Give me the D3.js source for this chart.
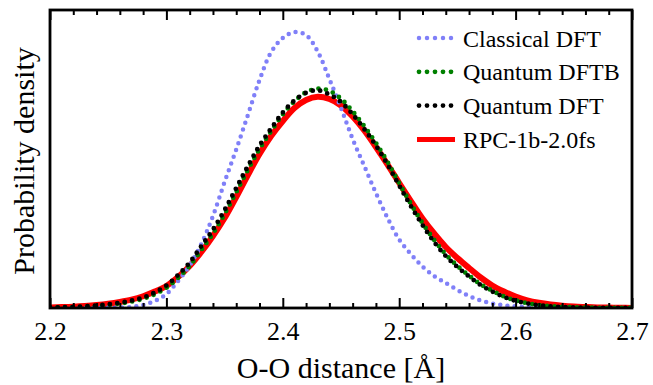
<!DOCTYPE html>
<html>
<head>
<meta charset="utf-8">
<script src="https://cdn.jsdelivr.net/npm/d3@7"></script>
<style>
body { margin: 0; background: #fff; }
text { font-family: "Liberation Serif", "Times New Roman", serif; fill: #000; }
</style>
</head>
<body>
<script>
var width = 653;
var height = 385;
var margin = {left: 50, right: 21, top: 10, bottom: 77};

// O-O distance grid [Å]
var distance = [2.20, 2.21, 2.22, 2.23, 2.24, 2.25, 2.26, 2.27, 2.28, 2.29,
                2.30, 2.31, 2.32, 2.33, 2.34, 2.35, 2.36, 2.37, 2.38, 2.39,
                2.40, 2.41, 2.42, 2.43, 2.44, 2.45, 2.46, 2.47, 2.48, 2.49,
                2.50, 2.51, 2.52, 2.53, 2.54, 2.55, 2.56, 2.57, 2.58, 2.59,
                2.60, 2.61, 2.62, 2.63, 2.64, 2.65, 2.66, 2.67, 2.68, 2.69, 2.70];

var classicalDFT = [0.000, 0.000, 0.001, 0.002, 0.003, 0.005, 0.011, 0.027, 0.081, 0.188,
                    0.376, 0.725, 1.141, 1.718, 2.470, 3.383, 4.255, 5.181, 6.121, 6.872,
                    7.248, 7.409, 7.329, 6.886, 6.148, 5.369, 4.537, 3.812, 3.087, 2.416,
                    1.839, 1.450, 1.114, 0.859, 0.671, 0.483, 0.322, 0.201, 0.121, 0.072,
                    0.046, 0.027, 0.016, 0.008, 0.005, 0.003, 0.001, 0.000, 0.000, 0.000, 0.000];

var quantumDFTB = [0.010, 0.015, 0.022, 0.038, 0.056, 0.084, 0.121, 0.174, 0.247, 0.370,
                   0.545, 0.810, 1.130, 1.560, 2.000, 2.525, 3.110, 3.710, 4.270, 4.750,
                   5.200, 5.550, 5.790, 5.890, 5.830, 5.620, 5.280, 4.880, 4.430, 3.920,
                   3.350, 2.800, 2.280, 1.830, 1.440, 1.130, 0.870, 0.635, 0.465, 0.310,
                   0.203, 0.130, 0.080, 0.049, 0.029, 0.017, 0.009, 0.005, 0.003, 0.001, 0.000];

var quantumDFT = [0.013, 0.019, 0.027, 0.046, 0.067, 0.099, 0.142, 0.201, 0.282, 0.416,
                  0.604, 0.886, 1.221, 1.664, 2.107, 2.631, 3.221, 3.812, 4.362, 4.819,
                  5.248, 5.570, 5.777, 5.844, 5.732, 5.530, 5.200, 4.805, 4.362, 3.852,
                  3.289, 2.738, 2.228, 1.772, 1.396, 1.101, 0.846, 0.617, 0.443, 0.295,
                  0.193, 0.123, 0.075, 0.046, 0.027, 0.016, 0.008, 0.005, 0.003, 0.001, 0.000];

var rpc = [0.016, 0.025, 0.037, 0.055, 0.080, 0.115, 0.163, 0.225, 0.315, 0.440,
           0.591, 0.832, 1.128, 1.503, 1.933, 2.416, 2.980, 3.570, 4.134, 4.617,
           5.020, 5.369, 5.584, 5.670, 5.611, 5.436, 5.141, 4.765, 4.322, 3.852,
           3.356, 2.872, 2.403, 2.000, 1.638, 1.342, 1.074, 0.819, 0.604, 0.443,
           0.309, 0.207, 0.140, 0.094, 0.062, 0.040, 0.027, 0.016, 0.011, 0.005, 0.003];

var xTicks = [2.2, 2.3, 2.4, 2.5, 2.6, 2.7];
var legendLabels = ["Classical DFT", "Quantum DFTB", "Quantum DFT", "RPC-1b-2.0fs"];

var svg = d3.select("body")
            .append("svg")
            .attr("width", width)
            .attr("height", height);

var xScale = d3.scaleLinear()
               .domain([2.2, 2.7])
               .range([margin.left, width - margin.right]);
var yScale = d3.scaleLinear()
               .domain([0, 8])
               .range([height - margin.bottom, margin.top]);

svg.append("clipPath")
   .attr("id", "plotClip")
   .append("rect")
   .attr("x", margin.left)
   .attr("y", margin.top)
   .attr("width", width - margin.left - margin.right)
   .attr("height", height - margin.top - margin.bottom);

var series = [
  {name: legendLabels[0], values: classicalDFT, color: "#8080f8", width: 4.5, gap: 7.2, dotted: true},
  {name: legendLabels[1], values: quantumDFTB, color: "#008000", width: 4.8, gap: 7.5, dotted: true},
  {name: legendLabels[2], values: quantumDFT, color: "#000000", width: 4.8, gap: 7.5, dotted: true},
  {name: legendLabels[3], values: rpc, color: "#ff0000", width: 6, gap: 0, dotted: false}
];

var line = d3.line()
             .x(function(d, i) { return xScale(distance[i]); })
             .y(function(d) { return yScale(d); })
             .curve(d3.curveCatmullRom);

// red first so the dotted curves sit on top of it
var drawOrder = [series[3], series[0], series[1], series[2]];
var plot = svg.append("g").attr("clip-path", "url(#plotClip)");
plot.selectAll("path")
    .data(drawOrder)
    .enter()
    .append("path")
    .attr("d", function(d) { return line(d.values); })
    .attr("fill", "none")
    .attr("stroke", function(d) { return d.color; })
    .attr("stroke-width", function(d) { return d.width; })
    .attr("stroke-linecap", function(d) { return d.dotted ? "round" : "butt"; })
    .attr("stroke-linejoin", "round")
    .attr("stroke-dasharray", function(d) { return d.dotted ? "0," + d.gap : null; });

// ticks
var minorTicks = xScale.ticks(25).filter(function(t) {
  return xTicks.every(function(m) { return Math.abs(m - t) > 1e-6; });
});
var yBottom = height - margin.bottom;

function styleAxis(g) {
  g.select(".domain").remove();
  g.selectAll(".tick line").attr("stroke", "#000").attr("stroke-width", 2);
}

svg.append("g")
   .attr("transform", "translate(0," + yBottom + ")")
   .call(d3.axisBottom(xScale).tickValues(xTicks).tickSize(-10).tickPadding(14)
           .tickFormat(d3.format(".1f")))
   .call(styleAxis)
   .selectAll("text")
   .style("font-size", "26px")
   .style("font-family", "Liberation Serif, serif");
svg.append("g")
   .attr("transform", "translate(0," + yBottom + ")")
   .call(d3.axisBottom(xScale).tickValues(minorTicks).tickSize(-5).tickFormat(""))
   .call(styleAxis);
svg.append("g")
   .attr("transform", "translate(0," + margin.top + ")")
   .call(d3.axisTop(xScale).tickValues(xTicks).tickSize(-10).tickFormat(""))
   .call(styleAxis);
svg.append("g")
   .attr("transform", "translate(0," + margin.top + ")")
   .call(d3.axisTop(xScale).tickValues(minorTicks).tickSize(-5).tickFormat(""))
   .call(styleAxis);

// frame
svg.append("rect")
   .attr("x", margin.left)
   .attr("y", margin.top)
   .attr("width", width - margin.left - margin.right)
   .attr("height", height - margin.top - margin.bottom)
   .attr("fill", "none")
   .attr("stroke", "#000")
   .attr("stroke-width", 2.8);

// axis titles
svg.append("text")
   .attr("x", (margin.left + width - margin.right) / 2)
   .attr("y", 378)
   .attr("text-anchor", "middle")
   .style("font-size", "30px")
   .text("O-O distance [Å]");
svg.append("text")
   .attr("transform", "translate(34," + ((margin.top + yBottom) / 2 + 2) + ") rotate(-90)")
   .attr("text-anchor", "middle")
   .style("font-size", "30px")
   .text("Probability density");

// legend
var legend = svg.selectAll(".legend")
                .data(series)
                .enter()
                .append("g")
                .attr("class", "legend")
                .attr("transform", function(d, i) { return "translate(417," + (38 + i * 33.8) + ")"; });
legend.append("line")
      .attr("x1", function(d) { return d.dotted ? 2 : 0; })
      .attr("x2", function(d) { return d.dotted ? 35 : 38; })
      .attr("y1", 0)
      .attr("y2", 0)
      .attr("stroke", function(d) { return d.color; })
      .attr("stroke-width", function(d) { return d.dotted ? d.width : 5; })
      .attr("stroke-linecap", function(d) { return d.dotted ? "round" : "butt"; })
      .attr("stroke-dasharray", function(d) { return d.dotted ? "0,8" : null; });
legend.append("text")
      .attr("x", 46)
      .attr("y", 8.5)
      .style("font-size", "24px")
      .text(function(d) { return d.name; });
</script>
</body>
</html>
